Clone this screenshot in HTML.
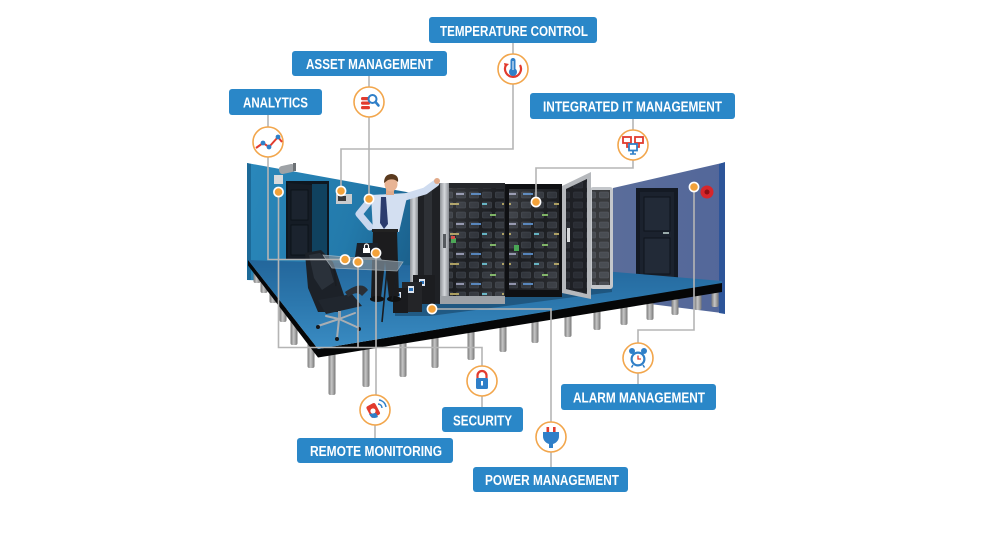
<!DOCTYPE html>
<html><head><meta charset="utf-8">
<style>
html,body{margin:0;padding:0;background:#fff;}
svg{display:block;}
.lbl{font-family:"Liberation Sans",sans-serif;font-weight:bold;font-size:14.5px;fill:#fff;}
</style></head><body>
<svg width="1000" height="542" viewBox="0 0 1000 542" xmlns="http://www.w3.org/2000/svg">
<defs>
 <linearGradient id="leg" x1="0" x2="1" y1="0" y2="0"><stop offset="0" stop-color="#7a7a7a"/><stop offset=".45" stop-color="#c6c6c6"/><stop offset="1" stop-color="#767676"/></linearGradient>
 <linearGradient id="lwall" x1="0" y1="0" x2="1" y2="0.2"><stop offset="0" stop-color="#2a88bb"/><stop offset=".6" stop-color="#237aab"/><stop offset="1" stop-color="#1a5d88"/></linearGradient>
 <linearGradient id="rwall" x1="0" y1="0" x2="1" y2="0"><stop offset="0" stop-color="#5a6d9a"/><stop offset="1" stop-color="#53679a"/></linearGradient>
 <linearGradient id="floor" x1="0" y1="0" x2="0" y2="1"><stop offset="0" stop-color="#23669b"/><stop offset=".5" stop-color="#2c78ae"/><stop offset="1" stop-color="#3a8cc3"/></linearGradient>
 <linearGradient id="glass" x1="0" y1="0" x2="1" y2="1"><stop offset="0" stop-color="#fff" stop-opacity=".14"/><stop offset=".5" stop-color="#fff" stop-opacity=".03"/><stop offset="1" stop-color="#fff" stop-opacity=".1"/></linearGradient>
 <linearGradient id="silver" x1="0" x2="1" y1="0" y2="0"><stop offset="0" stop-color="#8e9297"/><stop offset=".5" stop-color="#d5d8dc"/><stop offset="1" stop-color="#8a8e93"/></linearGradient>
 <pattern id="srv" width="13" height="10" patternUnits="userSpaceOnUse">
  <rect width="13" height="10" fill="#15171b"/>
  <rect x="1.5" y="2" width="9" height="6" rx="1" fill="#2a2e35" stroke="#3c414a" stroke-width=".6"/>
 </pattern>
 <pattern id="srv2" width="52" height="30" patternUnits="userSpaceOnUse">
  <rect x="3" y="13" width="10" height="2" fill="#4f7fb8"/>
  <rect x="22" y="4" width="6" height="2" fill="#7ab060"/>
  <rect x="34" y="23" width="9" height="2" fill="#a89a5a"/>
  <rect x="14" y="23" width="5" height="2" fill="#5fb0c0"/>
  <rect x="40" y="13" width="8" height="2" fill="#8c8fa8"/>
 </pattern>
</defs>

<!-- right wall -->
<polygon points="613,188 722,163 722,313 650,304 613,300" fill="url(#rwall)"/>
<polygon points="719,164 725,162 725,314 719,313" fill="#2d5599"/>
<!-- right door -->
<rect x="636" y="188" width="42" height="91" fill="#141a24"/>
<rect x="640" y="192" width="34" height="87" fill="#1b222e"/>
<rect x="644" y="197" width="26" height="34" fill="#222a37" stroke="#0f141c" stroke-width="1"/>
<rect x="644" y="238" width="26" height="36" fill="#222a37" stroke="#0f141c" stroke-width="1"/>
<rect x="663" y="232" width="6" height="2" fill="#9aa"/>
<!-- alarm bell -->
<circle cx="707" cy="192" r="6.5" fill="#d6262b"/>
<circle cx="707" cy="192" r="2.5" fill="#8e1014"/>

<!-- left wall -->
<polygon points="247,163 445,199 445,286 247,280" fill="url(#lwall)"/>
<polygon points="247,163 251,164 251,280 247,280" fill="#1c6a98"/>
<!-- left door -->
<rect x="286" y="181" width="43" height="79" fill="#0e1720"/>
<rect x="312" y="184" width="15" height="76" fill="#10425f"/>
<polygon points="288,183 312,185 312,259 288,259" fill="#151c25"/>
<rect x="291" y="190" width="17" height="30" fill="#1b232e" stroke="#0b1117" stroke-width=".8"/>
<rect x="291" y="225" width="17" height="30" fill="#1b232e" stroke="#0b1117" stroke-width=".8"/>
<!-- camera -->
<rect x="274" y="175" width="9" height="9" fill="#d8dadc"/>
<rect x="279" y="165" width="16" height="8" rx="3" fill="#9ea2a6" transform="rotate(-12 287 169)"/>
<rect x="293" y="163" width="3" height="8" fill="#6d7175"/>
<!-- thermostat -->
<rect x="336" y="194" width="16" height="10" fill="#c9cbcd"/>
<rect x="338" y="196" width="8" height="5" fill="#3a3a3a"/>

<!-- legs -->
<g fill="url(#leg)">
<rect x="253.5" y="266" width="7" height="17" rx="2"/>
<rect x="260.5" y="272" width="7" height="21" rx="2"/>
<rect x="269.5" y="282" width="7" height="21" rx="2"/>
<rect x="279.5" y="292" width="7" height="30" rx="2"/>
<rect x="290.5" y="304" width="7" height="41" rx="2"/>
<rect x="307.5" y="330" width="7" height="38" rx="2"/>
<rect x="328.5" y="345" width="7" height="50" rx="2"/>
<rect x="362.5" y="343" width="7" height="44" rx="2"/>
<rect x="399.5" y="335" width="7" height="42" rx="2"/>
<rect x="431.5" y="330" width="7" height="38" rx="2"/>
<rect x="467.5" y="324" width="7" height="36" rx="2"/>
<rect x="499.5" y="318" width="7" height="34" rx="2"/>
<rect x="531.5" y="313" width="7" height="30" rx="2"/>
<rect x="564.5" y="308" width="7" height="29" rx="2"/>
<rect x="593.5" y="303" width="7" height="27" rx="2"/>
<rect x="620.5" y="298" width="7" height="27" rx="2"/>
<rect x="646.5" y="294" width="7" height="26" rx="2"/>
<rect x="671.5" y="290" width="7" height="25" rx="2"/>
<rect x="694.5" y="287" width="7" height="23" rx="2"/>
<rect x="711.5" y="285" width="7" height="22" rx="2"/>
</g>

<!-- floor -->
<polygon points="248,260 318,349 722,282.5 722,292 318,357.5 248,265.5" fill="#050607"/>
<polygon points="248,260 615,272 722,281 722,283 318,349" fill="url(#floor)"/>

<!-- rack shadow -->
<polygon points="395,300 612,286 612,292 430,316 395,316" fill="#163e5c" opacity=".55"/>

<!-- racks -->
<!-- left side panel -->
<polygon points="410,197 440,183 440,304 410,302" fill="#1f2125"/>
<polygon points="410,197 418,193 418,303 410,302" fill="url(#silver)"/>
<polygon points="424,190 432,186 432,303 424,303" fill="#2e3136"/>
<!-- left rack front -->
<rect x="440" y="183" width="65" height="121" fill="#25272b"/>
<rect x="440" y="183" width="9" height="121" fill="url(#silver)"/>
<rect x="443" y="234" width="3" height="14" fill="#55595e"/>
<rect x="449" y="188" width="55" height="108" fill="url(#srv)"/>
<rect x="449" y="188" width="55" height="108" fill="url(#srv2)"/>
<rect x="451" y="238" width="5" height="5" fill="#3ea04a"/>
<rect x="451" y="236" width="4" height="3" fill="#d2403a"/>
<rect x="449" y="188" width="55" height="108" fill="url(#glass)"/>
<rect x="440" y="296" width="65" height="8" fill="#9ea2a7"/>
<!-- middle rack -->
<rect x="505" y="184" width="57" height="113" fill="#0f1013"/>
<rect x="509" y="189" width="50" height="101" fill="url(#srv)"/>
<rect x="509" y="189" width="50" height="101" fill="url(#srv2)"/>
<rect x="514" y="245" width="5" height="6" fill="#3ea04a"/>
<rect x="509" y="189" width="50" height="101" fill="url(#glass)"/>
<!-- right rack behind -->
<rect x="590" y="187" width="23" height="102" rx="3" fill="#c4c7cb"/>
<rect x="592" y="190" width="18" height="95" fill="url(#srv)"/>
<rect x="592" y="190" width="18" height="95" fill="#fff" opacity=".15"/>
<!-- open door -->
<polygon points="562,186 591,172 591,299 562,293" fill="#b5b8bc"/>
<polygon points="566,189 587,179 587,294 566,289" fill="url(#srv)"/>
<polygon points="566,189 587,179 587,294 566,289" fill="#2a2d33" opacity=".45"/>
<rect x="567" y="228" width="3" height="14" fill="#d8dadc"/>

<!-- UPS -->
<rect x="413" y="275" width="22" height="29" fill="#1c1d20"/>
<rect x="419" y="279" width="6" height="7" fill="#dfe6f0"/><rect x="420" y="281" width="4" height="3" fill="#2b6fb3"/>
<rect x="402" y="282" width="20" height="30" fill="#242528"/>
<rect x="408" y="286" width="6" height="7" fill="#dfe6f0"/><rect x="409" y="288" width="4" height="3" fill="#2b6fb3"/>
<rect x="393" y="288" width="15" height="25" fill="#1a1b1e"/>
<rect x="396" y="292" width="5" height="6" fill="#dfe6f0"/><rect x="397" y="293.5" width="3" height="3" fill="#2b6fb3"/>

<!-- man -->
<polygon points="373,231 397,231 399,296 389,298 385,262 381,298 371,297" fill="#1c1c1e"/>
<ellipse cx="377" cy="299" rx="7" ry="3" fill="#111"/>
<ellipse cx="394" cy="299" rx="7" ry="3" fill="#111"/>
<polyline points="405,197 425,191 436,183" fill="none" stroke="#cfdcf0" stroke-width="7" stroke-linecap="round" stroke-linejoin="round"/>
<circle cx="437" cy="181" r="3" fill="#e1a988"/>
<polyline points="372,198 359,214 370,227" fill="none" stroke="#c9d7ee" stroke-width="7" stroke-linecap="round" stroke-linejoin="round"/>
<polygon points="371,195 408,193 404,210 399,232 373,232" fill="#d3dff1"/>
<rect x="372" y="229" width="26" height="3" fill="#222"/>
<rect x="386" y="188" width="8" height="7" fill="#e0aa8a"/>
<ellipse cx="391" cy="184" rx="6.5" ry="7.5" fill="#e8b494"/>
<path d="M384,183 Q384,174 392,174 Q399,175 398,182 Q394,178 388,180 Z" fill="#5a3a1e"/>
<polygon points="381,197 386,197 388,224 384,229 380,223" fill="#2b3c6e"/>

<!-- chair -->
<polygon points="305,253 321,250 333,262 345,298 340,312 318,312 308,288" fill="#1c2128"/>
<polygon points="309,255 320,253 328,262 334,282 322,290 314,278" fill="#2a313a"/>
<polygon points="318,300 352,294 362,306 326,314" fill="#20262e"/>
<path d="M345,292 Q362,280 368,290 L362,296 Q357,290 348,297 Z" fill="#2a2f36"/>
<rect x="338" y="311" width="3" height="8" fill="#9aa0a6"/>
<g stroke="#a9aeb3" stroke-width="2" stroke-linecap="round">
<line x1="339" y1="319" x2="318" y2="326"/><line x1="339" y1="319" x2="337" y2="338"/><line x1="339" y1="319" x2="359" y2="328"/><line x1="339" y1="319" x2="355" y2="313"/><line x1="339" y1="319" x2="326" y2="316"/>
</g>
<g fill="#15181c"><circle cx="318" cy="327" r="2"/><circle cx="337" cy="339" r="2"/><circle cx="359" cy="329" r="2"/></g>

<!-- desk -->
<g stroke="#1a1d22" stroke-width="1.6">
<line x1="387" y1="270" x2="382" y2="322"/><line x1="398" y1="268" x2="392" y2="300"/><line x1="334" y1="268" x2="336" y2="286"/>
</g>
<polygon points="323,255 403,262 397,271 332,268" fill="#7d8d99" opacity=".75" stroke="#b9c4cc" stroke-width=".8"/>
<polygon points="357,243 378,243 377,257 355,257" fill="#1b2028"/>
<rect x="363" y="248" width="7" height="5" fill="#fff"/>
<path d="M364.5,248 V246 A2,2 0 0 1 368.5,246 V248" fill="none" stroke="#fff" stroke-width="1.2"/>
<polygon points="353,257 380,257 382,260 351,260" fill="#8a949c"/>

<!-- connectors -->
<g fill="none" stroke="#b5b5b5" stroke-width="1.6">
<path d="M513,43 V54 M513,84 V149 H341 V191"/>
<path d="M369,76 V87 M369,117 V199"/>
<path d="M268,115 V127 M268,157 V259.5 H345"/>
<path d="M633,119 V130 M633,160 V168 H536 V202"/>
<path d="M278.5,192 V347.5 H482 V366 M358,262 V347.5"/>
<path d="M376,253 V395 M375,425 V438"/>
<path d="M482,396 V407"/>
<path d="M694,187 V330 H638 V343 M638,373 V384"/>
<path d="M432,309 H551 V422 M551,452 V467"/>
</g>

<!-- dots -->
<g stroke="#fff" stroke-width="1.6" fill="#f3a23a">
<circle cx="278.5" cy="192" r="4.6"/>
<circle cx="341" cy="191" r="4.6"/>
<circle cx="369" cy="199" r="4.6"/>
<circle cx="536" cy="202" r="4.6"/>
<circle cx="694" cy="187" r="4.6"/>
<circle cx="345" cy="259.5" r="4.6"/>
<circle cx="358" cy="262" r="4.6"/>
<circle cx="376" cy="253" r="4.6"/>
<circle cx="432" cy="309" r="4.6"/>
</g>

<!-- icon circles -->
<g fill="#fff" stroke="#f2a64c" stroke-width="1.6">
<circle cx="513" cy="69" r="15"/>
<circle cx="369" cy="102" r="15"/>
<circle cx="268" cy="142" r="15"/>
<circle cx="633" cy="145" r="15"/>
<circle cx="375" cy="410" r="15"/>
<circle cx="482" cy="381" r="15"/>
<circle cx="638" cy="358" r="15"/>
<circle cx="551" cy="437" r="15"/>
</g>

<!-- icon glyphs -->
<!-- temperature -->
<path d="M506,65 A8,8 0 1 0 520,65" fill="none" stroke="#e23b2e" stroke-width="2.2"/>
<polygon points="504,63 509,64 505,68" fill="#e23b2e"/>
<rect x="510.5" y="58" width="5" height="13" rx="2.5" fill="#2f7fc8"/>
<circle cx="513" cy="72" r="4" fill="#2f7fc8"/>
<line x1="513" y1="61" x2="513" y2="70" stroke="#fff" stroke-width="1"/>
<!-- asset -->
<g fill="#e23b2e"><rect x="361" y="97" width="9" height="3.2" rx="1.5"/><rect x="361" y="101.5" width="9" height="3.2" rx="1.5"/><rect x="361" y="106" width="9" height="3.2" rx="1.5"/></g>
<circle cx="372.5" cy="99" r="4" fill="#fff" stroke="#2f7fc8" stroke-width="2"/>
<line x1="375.5" y1="102" x2="378.5" y2="105.5" stroke="#2f7fc8" stroke-width="2.5" stroke-linecap="round"/>
<!-- analytics -->
<polyline points="256,148 263,143 269,147 278,137 282,142" fill="none" stroke="#e23b2e" stroke-width="2"/>
<g fill="#2f7fc8"><circle cx="263" cy="143" r="2.4"/><circle cx="269" cy="147" r="2.4"/><circle cx="278" cy="137" r="2.4"/></g>
<!-- integrated -->
<g fill="none" stroke="#e23b2e" stroke-width="1.8"><rect x="623" y="137" width="8" height="6"/><rect x="635" y="137" width="8" height="6"/><path d="M627,143 V147 H629 M639,143 V147 H637"/></g>
<rect x="629" y="144" width="8" height="6.5" fill="#fff" stroke="#2f7fc8" stroke-width="1.8"/>
<line x1="633" y1="151" x2="633" y2="154" stroke="#2f7fc8" stroke-width="1.8"/><line x1="630" y1="154" x2="636" y2="154" stroke="#2f7fc8" stroke-width="1.5"/>
<!-- remote -->
<rect x="368" y="404" width="10" height="13" rx="2" fill="#e23b2e" transform="rotate(-28 373 410)"/>
<circle cx="373" cy="411" r="2.6" fill="#fff"/>
<path d="M369,414 Q372,420 378,417 L376,413 Z" fill="#2f7fc8"/>
<path d="M378,404 A4,4 0 0 1 382,408 M379,400 A8,8 0 0 1 386,407" fill="none" stroke="#2f7fc8" stroke-width="1.4"/>
<!-- security -->
<path d="M477.5,379 V375.5 A4.5,4.5 0 0 1 486.5,375.5 V379" fill="none" stroke="#e23b2e" stroke-width="2.2"/>
<rect x="476" y="378" width="12" height="11" rx="1.5" fill="#2f7fc8"/>
<rect x="481" y="381" width="2" height="4.5" fill="#fff"/>
<!-- alarm -->
<g fill="#2f7fc8"><circle cx="632" cy="351" r="3"/><circle cx="644" cy="351" r="3"/><circle cx="638" cy="359" r="7.5"/></g>
<circle cx="638" cy="359" r="5.3" fill="#fff"/>
<path d="M638,355.5 V359 H641" fill="none" stroke="#e23b2e" stroke-width="1.3"/>
<path d="M633,365 L631.5,367.5 M643,365 L644.5,367.5" stroke="#2f7fc8" stroke-width="1.5"/>
<!-- power -->
<g fill="#e23b2e"><rect x="546.5" y="427" width="2.6" height="6"/><rect x="553" y="427" width="2.6" height="6"/></g>
<path d="M543,432 H559 V436 A8,8 0 0 1 553,444 V448 H549 V444 A8,8 0 0 1 543,436 Z" fill="#2f7fc8"/>

<!-- labels -->
<g fill="#2a87c8">
<rect x="429" y="17" width="168" height="26" rx="3"/>
<rect x="292" y="51" width="155" height="25" rx="3"/>
<rect x="229" y="89" width="93" height="26" rx="3"/>
<rect x="530" y="93" width="205" height="26" rx="3"/>
<rect x="297" y="438" width="156" height="25" rx="3"/>
<rect x="442" y="407" width="81" height="25" rx="3"/>
<rect x="561" y="384" width="155" height="26" rx="3"/>
<rect x="473" y="467" width="155" height="25" rx="3"/>
</g>
<g class="lbl">
<text x="440" y="36" textLength="148" lengthAdjust="spacingAndGlyphs">TEMPERATURE CONTROL</text>
<text x="306" y="69" textLength="127" lengthAdjust="spacingAndGlyphs">ASSET MANAGEMENT</text>
<text x="243" y="107.5" textLength="65" lengthAdjust="spacingAndGlyphs">ANALYTICS</text>
<text x="543" y="111.5" textLength="179" lengthAdjust="spacingAndGlyphs">INTEGRATED IT MANAGEMENT</text>
<text x="310" y="456" textLength="132" lengthAdjust="spacingAndGlyphs">REMOTE MONITORING</text>
<text x="453" y="425.5" textLength="59" lengthAdjust="spacingAndGlyphs">SECURITY</text>
<text x="573" y="402.5" textLength="132" lengthAdjust="spacingAndGlyphs">ALARM MANAGEMENT</text>
<text x="485" y="485" textLength="134" lengthAdjust="spacingAndGlyphs">POWER MANAGEMENT</text>
</g>
</svg>
</body></html>
